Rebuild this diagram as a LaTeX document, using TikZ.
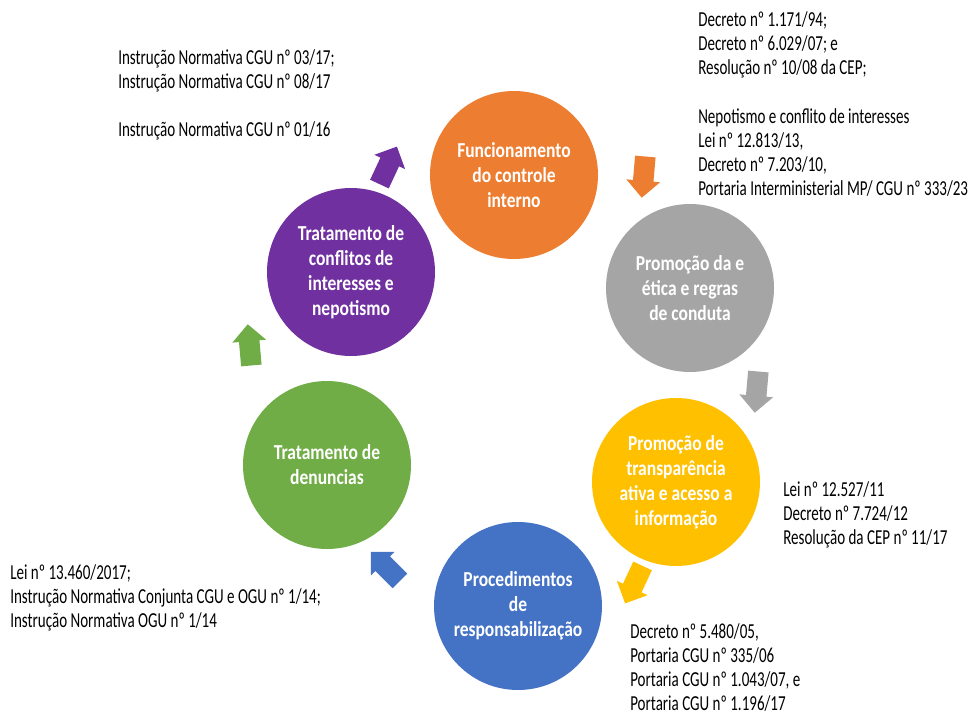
\documentclass[tikz,border=0pt]{standalone}
\usepackage{fontspec}
\setmainfont{Carlito}[FakeStretch=0.705, BoldFeatures={FakeStretch=0.82}]
\usetikzlibrary{shapes.arrows}

\definecolor{corLaranja}{HTML}{ED7D31}
\definecolor{corCinza}{HTML}{A5A5A5}
\definecolor{corAmarelo}{HTML}{FFC000}
\definecolor{corAzul}{HTML}{4472C4}
\definecolor{corVerde}{HTML}{70AD47}
\definecolor{corRoxo}{HTML}{7030A0}

\tikzset{
  fase/.style={circle, minimum size=126pt, inner sep=0pt, align=center, text=white,
    font=\fontsize{16}{18.8}\selectfont\bfseries},
  seta/.style={single arrow, minimum height=31pt, inner sep=7.5pt,
    single arrow head extend=5pt},
  norma/.style={anchor=north west, align=left, inner sep=0pt,
    font=\fontsize{16}{18.2}\selectfont}
}

\begin{document}
\begin{tikzpicture}[x=0.75pt, y=-0.75pt]
  \useasboundingbox (0,0) rectangle (972,717);

  % ciclo
  \node[fase, fill=corLaranja] (controle) at (514,175) {Funcionamento\\do controle\\interno};
  \node[fase, fill=corCinza] (etica) at (690,288) {Promoção da e\\ética e regras\\de conduta};
  \node[fase, fill=corAmarelo] (transp) at (676,482) {Promoção de\\transparência\\ativa e acesso a\\informação};
  \node[fase, fill=corAzul] (resp) at (518,606) {Procedimentos\\de\\responsabilização};
  \node[fase, fill=corVerde] (denuncias) at (327,465) {Tratamento de\\denuncias};
  \node[fase, fill=corRoxo] (conflitos) at (351,272) {Tratamento de\\conflitos de\\interesses e\\nepotismo};

  % setas
  \node[seta, fill=corLaranja, rotate=-95] (s1) at (644,172) {};
  \node[seta, fill=corCinza, rotate=-95] (s2) at (757,387) {};
  \node[seta, fill=corAmarelo, rotate=-115] (s3) at (636,580) {};
  \node[seta, fill=corAzul, rotate=135] (s4) at (389,570) {};
  \node[seta, fill=corVerde, rotate=95] (s5) at (250,350) {};
  \node[seta, fill=corRoxo, rotate=65] (s6) at (386,170) {};

  % normas
  \node[norma] (nConflitos) at (118,49) {Instrução Normativa CGU nº 03/17;\\Instrução Normativa CGU nº 08/17\\[18.2pt]Instrução Normativa CGU nº 01/16};
  \node[norma] (nEtica) at (698,11) {Decreto nº 1.171/94;\\Decreto nº 6.029/07; e\\Resolução nº 10/08 da CEP;\\[18.2pt]Nepotismo e conflito de interesses\\Lei nº 12.813/13,\\Decreto nº 7.203/10,\\Portaria Interministerial MP/ CGU nº 333/23};
  \node[norma] (nTransp) at (783,481) {Lei nº 12.527/11\\Decreto nº 7.724/12\\Resolução da CEP nº 11/17};
  \node[norma] (nDenuncias) at (10,564) {Lei nº 13.460/2017;\\Instrução Normativa Conjunta CGU e OGU nº 1/14;\\Instrução Normativa OGU nº 1/14};
  \node[norma] (nResp) at (630,623) {Decreto nº 5.480/05,\\Portaria CGU nº 335/06\\Portaria CGU nº 1.043/07, e\\Portaria CGU nº 1.196/17};
\end{tikzpicture}
\end{document}
